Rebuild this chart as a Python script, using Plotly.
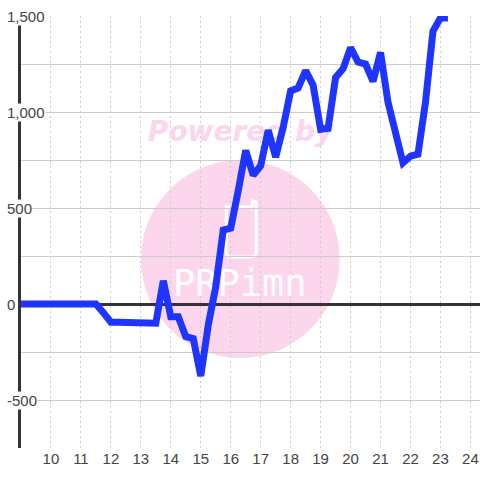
import plotly.graph_objects as go

hours = [9, 9.25, 9.5, 9.75, 10, 10.25, 10.5, 10.75, 11, 11.25, 11.5, 11.75, 12, 12.25, 12.5, 12.75, 13, 13.25, 13.5, 13.75,
         14, 14.25, 14.5, 14.75, 15, 15.25, 15.5, 15.75, 16, 16.25, 16.5, 16.75, 17, 17.25, 17.5, 17.75, 18, 18.25, 18.5,
         18.75, 19, 19.25, 19.5, 19.75, 20, 20.25, 20.5, 20.75, 21, 21.25, 21.5, 21.75, 22, 22.25, 22.5, 22.75, 23, 23.25]
values = [0, 0, 0, 0, 0, 0, 0, 0, 0, 0, 0, -45, -95, -95, -95, -95, -95, -95, -100, 121,
          -66, -66, -170, -180, -375, -110, 90, 385, 395, 590, 800, 670, 720, 905, 765, 920, 1110, 1125, 1215,
          1140, 910, 915, 1180, 1225, 1335, 1260, 1250, 1160, 1310, 1050, 880, 735, 770, 780, 1050, 1420, 1490, 1490]
x_ticks = list(range(10, 25))
y_grid = [-750, -500, -250, 0, 250, 500, 750, 1000, 1250, 1500]
y_labels = {1500: "1,500", 1000: "1,000", 500: "500", 0: "0", -500: "-500"}

PINK = "#fbd6ec"
TEXT = "#444444"
L, T, PW, PH = 20.5, 16, 459.5, 432


def px(v):
    return (v - L) / PW


def py(v):
    return (T + PH - v) / PH


fig = go.Figure()
fig.add_trace(go.Scatter(x=[16.33], y=[885], mode="text", text=["<b><i>Powered by</i></b>"],
                         textfont=dict(family="DejaVu Sans", size=28, color=PINK), textposition="middle center",
                         hoverinfo="skip", showlegend=False))
fig.add_trace(go.Scatter(x=[16.3], y=[88], mode="text", text=["PRPimn"],
                         textfont=dict(family="DejaVu Sans Mono", size=37, color="#ffffff"),
                         textposition="middle center", hoverinfo="skip", showlegend=False))
fig.add_trace(go.Scatter(x=hours, y=values, mode="lines", line=dict(color="#1f35ff", width=7),
                         hoverinfo="skip", showlegend=False, cliponaxis=False))

logo = (f"M {px(226)} {py(210)} L {px(226)} {py(252)} Q {px(226)} {py(257)} {px(231)} {py(257)} "
        f"L {px(250)} {py(257)} Q {px(256)} {py(257)} {px(256)} {py(252)} L {px(256)} {py(202)} "
        f"L {px(252)} {py(201)} L {px(252)} {py(207)} L {px(226)} {py(207)} Z")
shapes = [dict(type="circle", xref="paper", yref="paper", layer="below",
               x0=px(140.5), x1=px(339.5), y0=py(358), y1=py(160),
               fillcolor=PINK, line_width=0),
          dict(type="path", xref="paper", yref="paper", layer="below", path=logo,
               fillcolor="rgba(0,0,0,0)", line=dict(color="#ffffff", width=3))]

annotations = []
for val, label in y_labels.items():
    annotations.append(dict(xref="paper", yref="y", x=px(5), y=val, text=label, showarrow=False,
                            xanchor="left", yanchor="middle", bgcolor="#ffffff", borderpad=0,
                            font=dict(family="Liberation Sans", size=15, color=TEXT)))

fig.update_layout(
    width=480, height=480, autosize=False,
    margin=dict(l=L, r=0, t=T, b=32, pad=0),
    paper_bgcolor="#ffffff", plot_bgcolor="#ffffff",
    shapes=shapes, annotations=annotations,
    xaxis=dict(range=[9, 24.32], tickmode="array", tickvals=x_ticks, ticktext=[str(t) for t in x_ticks],
               showgrid=True, gridcolor="#cccccc", griddash="2px,3px", gridwidth=1, zeroline=False,
               showline=False, ticks="", tickfont=dict(family="Liberation Sans", size=15, color=TEXT)),
    yaxis=dict(range=[-750, 1500], tickmode="array", tickvals=y_grid, showticklabels=False,
               showgrid=True, gridcolor="#cccccc", gridwidth=1.3, zeroline=True, zerolinecolor="#333333",
               zerolinewidth=3, showline=True, linecolor="#333333", linewidth=3, ticks=""),
)
fig.write_html("out.html", config={"displayModeBar": False},
               post_script="document.body.style.margin='0';document.body.style.padding='0';")
